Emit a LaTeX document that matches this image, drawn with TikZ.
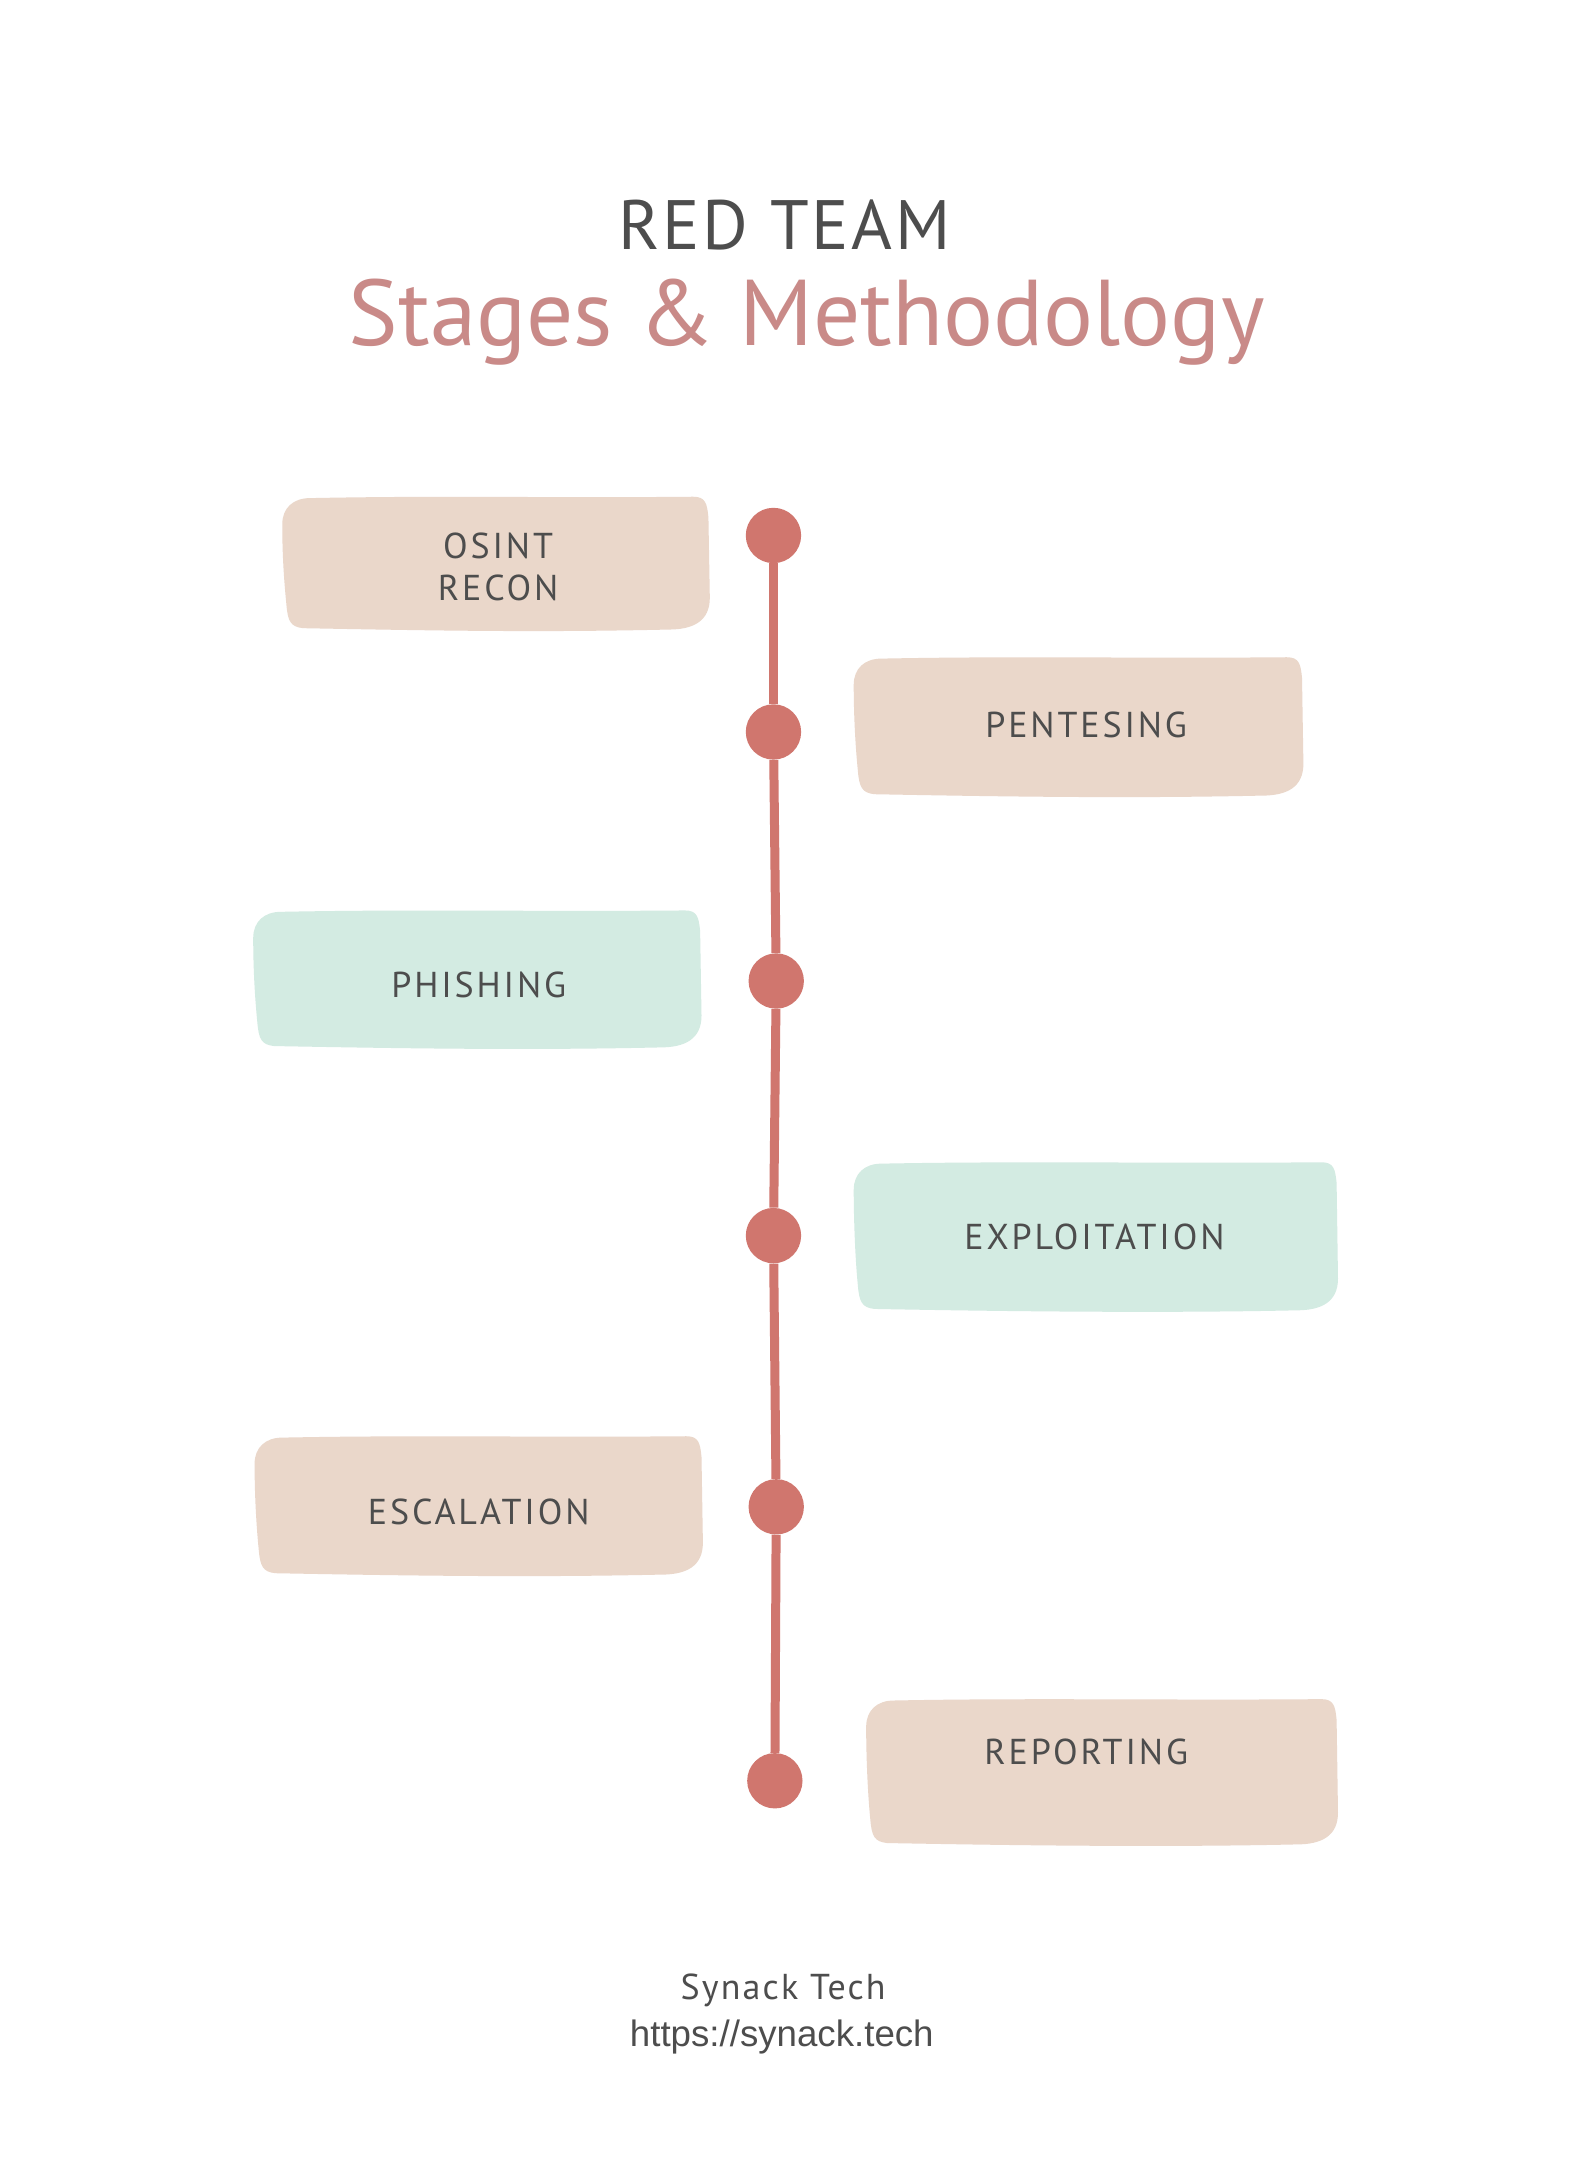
\documentclass[tikz,border=0pt]{standalone}
\usepackage{fontspec}
\setmainfont{PT Sans}
\newfontfamily\hand{PT Sans}
\newfontfamily\handt{PT Sans}[LetterSpace=4]
\newfontfamily\handf{PT Sans}[LetterSpace=6]
\newfontfamily\handl{PT Sans}[LetterSpace=8]
\newfontfamily\arialf{Liberation Sans}
\definecolor{beige}{HTML}{EAD7CA}
\definecolor{mint}{HTML}{D3EBE2}
\definecolor{dotred}{HTML}{D0766E}
\definecolor{rose}{HTML}{C98A88}
\definecolor{txtgray}{HTML}{4D4D4D}
\newcommand\sketchbox[5]{%
  \fill[#5] (#1+20,#2+1) .. controls (#1+120,#2-1) and (#3-120,#2+1) .. (#3-12,#2)
    .. controls (#3-3,#2) and (#3-2,#2+5) .. (#3-1,#2+15)
    -- (#3,#4-25)
    .. controls (#3,#4-8) and (#3-12,#4-2) .. (#3-30,#4-2)
    .. controls (#3-120,#4) and (#1+120,#4-1) .. (#1+15,#4-3)
    .. controls (#1+6,#4-4) and (#1+4,#4-8) .. (#1+3,#4-20)
    .. controls (#1+1,#4-40) and (#1,#2+40) .. (#1,#2+20)
    .. controls (#1,#2+8) and (#1+8,#2+1) .. (#1+20,#2+1) -- cycle;}
\begin{document}
\begin{tikzpicture}[x=1pt,y=-1pt,
  dot/.style={circle,fill=dotred,inner sep=0pt,minimum size=40pt},
  tline/.style={draw=dotred,line width=6.5pt},
  lbl/.style={text=txtgray,font=\handl\fontsize{26}{30}\selectfont,anchor=base,inner sep=0pt,align=center}]
\useasboundingbox (0,0) rectangle (1147,1567.6);
\fill[white] (0,0) rectangle (1147,1567.6);

\node[text=txtgray,font=\handt\fontsize{50.5}{60}\selectfont,anchor=base,inner sep=0pt] (t1) at (567,180) {RED TEAM};
\node[text=rose,font=\hand\fontsize{67.5}{80}\selectfont,anchor=base,inner sep=0pt] (t2) at (583,250) {Stages \& Methodology};

\sketchbox{204}{359}{513}{457}{beige}
\sketchbox{617}{475}{942}{577}{beige}
\sketchbox{183}{658}{507}{759}{mint}
\sketchbox{617}{840}{967}{949}{mint}
\sketchbox{184}{1038}{508}{1140}{beige}
\sketchbox{626}{1228}{967}{1335}{beige}

\node[lbl,anchor=north] (b1) at (360,385) {OSINT\\RECON};
\node[lbl] (b2) at (785,533) {PENTESING};
\node[lbl] (b3) at (346,721) {PHISHING};
\node[lbl] (b4) at (791,903) {EXPLOITATION};
\node[lbl] (b5) at (346,1102) {ESCALATION};
\node[lbl] (b6) at (785,1275) {REPORTING};

\node[dot] (d1) at (559,387) {};
\node[dot] (d2) at (559,529) {};
\node[dot] (d3) at (561,709) {};
\node[dot] (d4) at (559,893) {};
\node[dot] (d5) at (561,1089) {};
\node[dot] (d6) at (560,1287) {};
\draw[tline] (d1) -- (d2);
\draw[tline] (d2) -- (d3);
\draw[tline] (d3) -- (d4);
\draw[tline] (d4) -- (d5);
\draw[tline] (d5) -- (d6);

\node[text=txtgray,font=\handf\fontsize{26}{30}\selectfont,anchor=base,inner sep=0pt] (f1) at (566,1445) {Synack Tech};
\node[text=txtgray,font=\arialf\fontsize{26.5}{30}\selectfont,anchor=base,inner sep=0pt] (f2) at (565,1479) {https://synack.tech};
\end{tikzpicture}
\end{document}
